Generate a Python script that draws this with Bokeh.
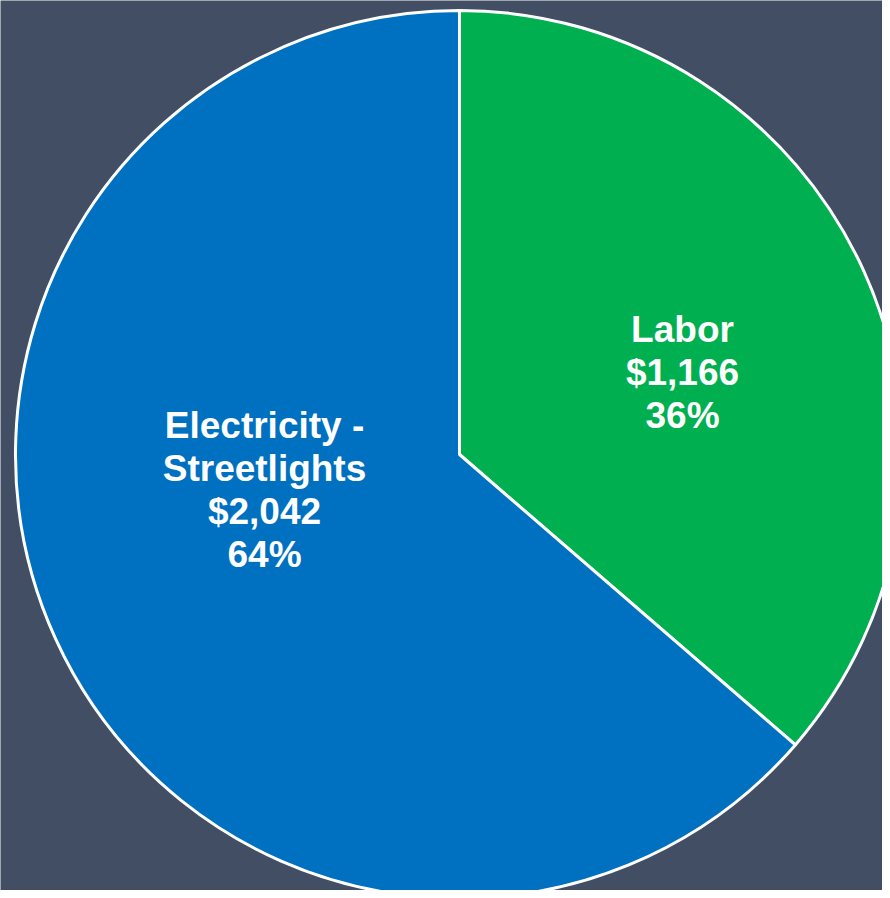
import math
from bokeh.plotting import figure
from bokeh.models import Range1d, ColumnDataSource
from bokeh.core.properties import value
from bokeh.embed import file_html
from bokeh.resources import INLINE

# ---- data ----
categories = ["Labor", "Electricity -\nStreetlights"]
amounts = [1166, 2042]
colors = ["#00B050", "#0070C0"]

# ---- layout (picture pixel coordinates; y is negated so that up is positive) ----
cx, cy, radius = 459, -454, 444
label_x = [682, 264]
label_first_baseline = [-329, -425]
line_step = 43

total = sum(amounts)
fracs = [a / total for a in amounts]

starts, ends = [], []
cum = 0.0
for f in fracs:
    end = math.pi / 2 - cum * 2 * math.pi
    start = math.pi / 2 - (cum + f) * 2 * math.pi
    starts.append(start)
    ends.append(end)
    cum += f

wedges = ColumnDataSource(dict(
    x=[cx] * len(amounts), y=[cy] * len(amounts),
    start=starts, end=ends, color=colors,
))

tx, ty, tt = [], [], []
for i, (name, amt, f) in enumerate(zip(categories, amounts, fracs)):
    lines = name.split("\n") + [f"${amt:,}", f"{round(f * 100)}%"]
    for j, ln in enumerate(lines):
        tx.append(label_x[i])
        ty.append(label_first_baseline[i] - j * line_step)
        tt.append(ln)
texts = ColumnDataSource(dict(x=tx, y=ty, text=tt))

bg = "#424e63"
p = figure(width=882, height=890, output_backend="svg", toolbar_location=None,
           x_range=Range1d(0, 882), y_range=Range1d(-890, 0),
           min_border=0, background_fill_color=bg, border_fill_color=bg,
           outline_line_color=None)
p.axis.visible = False
p.grid.visible = False

p.wedge(x="x", y="y", radius=radius, start_angle="start", end_angle="end",
        fill_color="color", line_color="white", line_width=3, source=wedges)

p.text(x="x", y="y", text="text", source=texts,
       text_font=value("Liberation Sans"), text_font_style="bold",
       text_font_size="37px", text_color="white",
       text_align="center", text_baseline="alphabetic")

open("out.html", "w").write(file_html(p, INLINE))
